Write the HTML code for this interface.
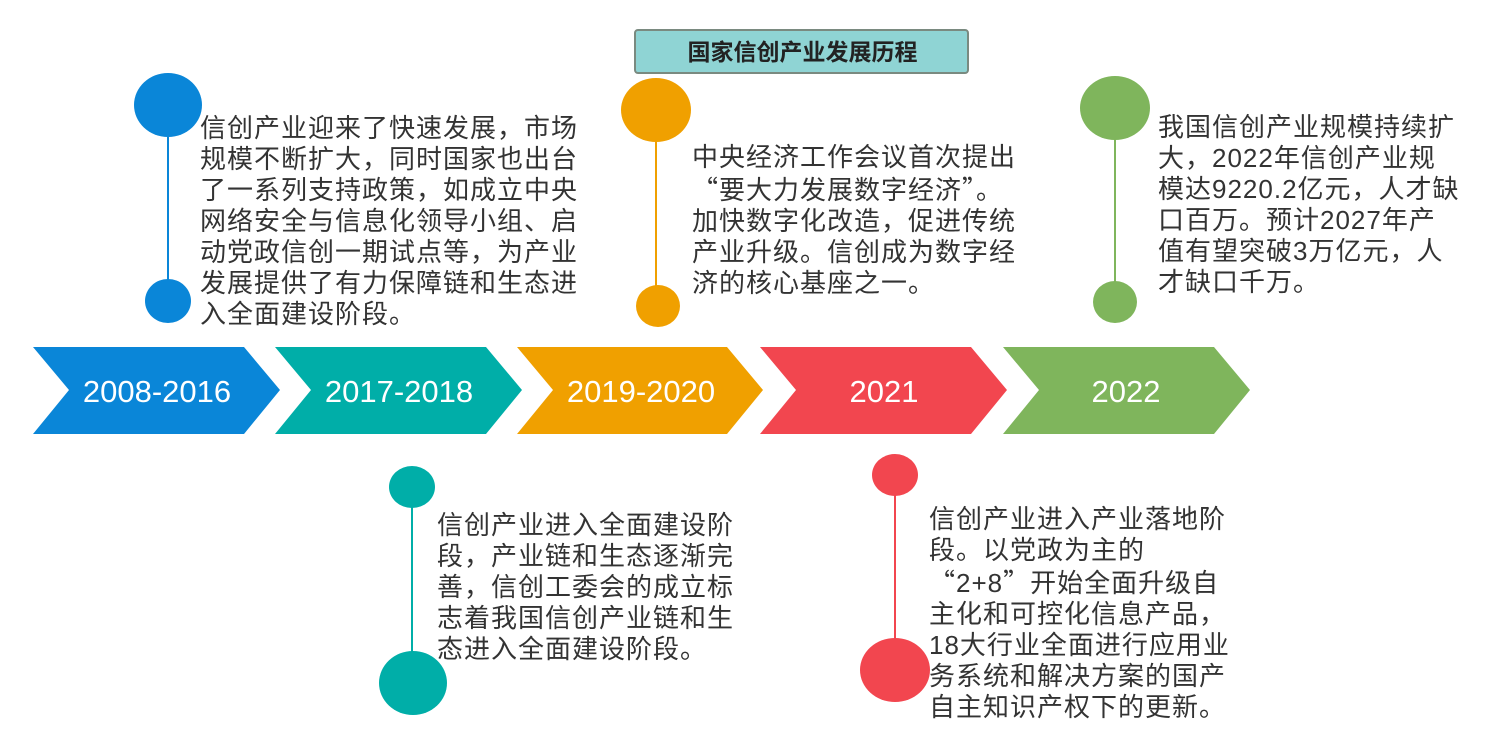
<!DOCTYPE html>
<html><head><meta charset="utf-8"><style>
body{margin:0;width:1500px;height:753px;background:#fff;position:relative;overflow:hidden;font-family:"Liberation Sans","Noto Sans CJK SC",sans-serif}
.t{position:absolute;color:#333;font-size:26px;line-height:31px;white-space:pre;letter-spacing:1px}
.q{font-family:"Noto Sans CJK SC",sans-serif}
.y{position:absolute;color:#fff;font-size:31px;width:200px;text-align:center;top:374px}
</style></head><body>
<svg width="1500" height="753" style="position:absolute;left:0;top:0">
<g>
<polygon points="33,347 244,347 280,390 244,434 33,434 69,390" fill="#0a86d8"/>
<polygon points="275,347 486,347 522,390 486,434 275,434 311,390" fill="#00aea8"/>
<polygon points="517,347 727,347 763,390 727,434 517,434 553,390" fill="#f0a000"/>
<polygon points="760,347 971,347 1007,390 971,434 760,434 796,390" fill="#f2464f"/>
<polygon points="1003,347 1214,347 1250,390 1214,434 1003,434 1039,390" fill="#7fb55c"/>
</g>
<rect x="635" y="30" width="333" height="43" rx="3" fill="#8fd4d4" stroke="#7a8a80" stroke-width="2"/>
<line x1="168" y1="137" x2="168" y2="282" stroke="#0a86d8" stroke-width="2"/>
<ellipse cx="168" cy="105" rx="34" ry="32" fill="#0a86d8"/>
<ellipse cx="168" cy="301" rx="23" ry="22" fill="#0a86d8"/>
<line x1="656" y1="140" x2="656" y2="286" stroke="#f0a000" stroke-width="2"/>
<ellipse cx="656" cy="110" rx="35" ry="32" fill="#f0a000"/>
<ellipse cx="658" cy="306" rx="22" ry="21" fill="#f0a000"/>
<line x1="1115" y1="138" x2="1115" y2="282" stroke="#7fb55c" stroke-width="2"/>
<ellipse cx="1115" cy="108" rx="35" ry="32" fill="#7fb55c"/>
<ellipse cx="1115" cy="302" rx="22" ry="21" fill="#7fb55c"/>
<line x1="412" y1="507" x2="412" y2="652" stroke="#00aea8" stroke-width="2"/>
<ellipse cx="412" cy="487" rx="23" ry="21" fill="#00aea8"/>
<ellipse cx="413" cy="683" rx="34" ry="32" fill="#00aea8"/>
<line x1="895" y1="495" x2="895" y2="640" stroke="#f2464f" stroke-width="2"/>
<ellipse cx="895" cy="475" rx="23" ry="21" fill="#f2464f"/>
<ellipse cx="895" cy="670" rx="35" ry="32" fill="#f2464f"/>
</svg>
<div style="position:absolute;left:635px;top:30px;width:335px;height:45px;line-height:45px;text-align:center;font-size:23px;font-weight:bold;color:#222">国家信创产业发展历程</div>
<div class="y" style="left:57px">2008-2016</div>
<div class="y" style="left:299px">2017-2018</div>
<div class="y" style="left:541px">2019-2020</div>
<div class="y" style="left:784px">2021</div>
<div class="y" style="left:1026px">2022</div>
<div class="t" style="left:200px;top:113px">信创产业迎来了快速发展，市场
规模不断扩大，同时国家也出台
了一系列支持政策，如成立中央
网络安全与信息化领导小组、启
动党政信创一期试点等，为产业
发展提供了有力保障链和生态进
入全面建设阶段。</div>
<div class="t" style="left:692px;top:142px">中央经济工作会议首次提出
<span class="q">“</span>要大力发展数字经济<span class="q">”</span>。
加快数字化改造，促进传统
产业升级。信创成为数字经
济的核心基座之一。</div>
<div class="t" style="left:1158px;top:112px">我国信创产业规模持续扩
大，2022年信创产业规
模达9220.2亿元，人才缺
口百万。预计2027年产
值有望突破3万亿元，人
才缺口千万。</div>
<div class="t" style="left:437px;top:510px">信创产业进入全面建设阶
段，产业链和生态逐渐完
善，信创工委会的成立标
志着我国信创产业链和生
态进入全面建设阶段。</div>
<div class="t" style="left:929px;top:504px">信创产业进入产业落地阶
段。以党政为主的
<span class="q">“</span>2+8<span class="q">”</span>开始全面升级自
主化和可控化信息产品，
18大行业全面进行应用业
务系统和解决方案的国产
自主知识产权下的更新。</div>
</body></html>
